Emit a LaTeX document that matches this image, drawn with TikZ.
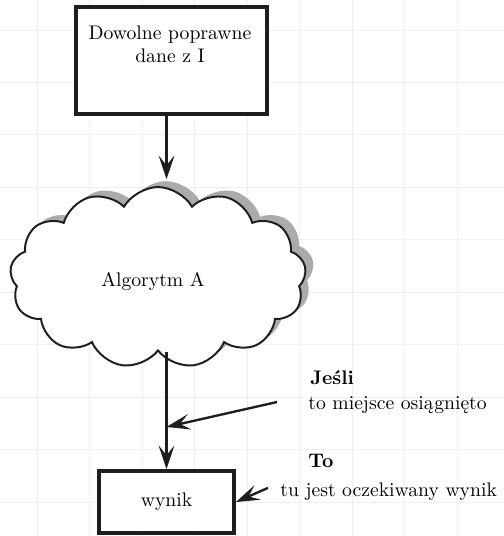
\documentclass[tikz,border=0pt]{standalone}
\usepackage{fontspec}
\usetikzlibrary{shapes.symbols, arrows.meta, positioning, shadows, calc}
\definecolor{ink}{HTML}{1E1E1E}
\definecolor{gridline}{HTML}{EFEFEF}
\definecolor{shadowgray}{HTML}{ABABAB}
\tikzset{
  databox/.style={rectangle, draw=ink, line width=2pt, fill=white,
                  minimum width=3.41cm, minimum height=1.91cm},
  resultbox/.style={databox, minimum width=2.41cm, minimum height=1.107cm},
  algcloud/.style={cloud, cloud puffs=13, cloud puff arc=120,
                   cloud ignores aspect, draw=ink, line width=1pt,
                   fill=white, minimum width=5.29cm, minimum height=3.23cm,
                   drop shadow={shadow xshift=4pt, shadow yshift=3pt,
                                fill=shadowgray, opacity=1}},
  arrow/.style={-{Stealth[length=12pt, width=8pt, inset=5pt]},
                line width=1.2pt, draw=ink},
  note/.style={anchor=base west, inner sep=0pt},
}

\begin{document}
\begin{tikzpicture}
  \useasboundingbox (0,0) rectangle (9,-9.573);
  \fill[white] (0,0) rectangle (9,-9.573);

  %% Background grid
  \foreach \k in {0,...,8}{
    \draw[gridline, line width=0.5pt] ({0.6696+0.9375*\k},0) -- ++(0,-9.573);
  }
  \foreach \k in {0,...,9}{
    \draw[gridline, line width=0.5pt] (0,{-0.5357-0.9375*\k}) -- ++(9,0);
  }

  %% Input, algorithm, result
  \node[databox] (dane) at (3.063,-1.080) {};
  \node[anchor=north, align=center, inner sep=0pt] (daneTxt)
    at (3.036,-0.452) {Dowolne poprawne\\dane z I};
  \node[algcloud] (algorytm) at (2.822,-4.956) {};
  \node (algTxt) at (2.732,-5.036) {Algorytm A};
  \node[resultbox] (wynik) at (2.974,-8.966) {wynik};

  %% Flow
  \draw[arrow] (dane.south -| wynik.north) -- (wynik.north |- 0,-3.2);
  \draw[arrow] (algorytm.south -| wynik.north) -- (wynik.north);

  %% Annotations
  \coordinate (jesliPt) at (4.947,-7.18);
  \coordinate (toPt) at (4.786,-8.714);
  \draw[arrow] (jesliPt) -- (wynik.north |- 0,-7.626);
  \draw[arrow] (toPt) -- (wynik.east);

  \node[note] (jesliTxt) at (5.536,-6.875) {\textbf{Jeśli}};
  \node[note] (osiagTxt) at (5.5,-7.32) {to miejsce osiągnięto};
  \node[note] (toTxt) at (5.5,-8.357) {\textbf{To}};
  \node[note] (wynikTxt) at (5.0,-8.875) {tu jest oczekiwany wynik};

\end{tikzpicture}
\end{document}
